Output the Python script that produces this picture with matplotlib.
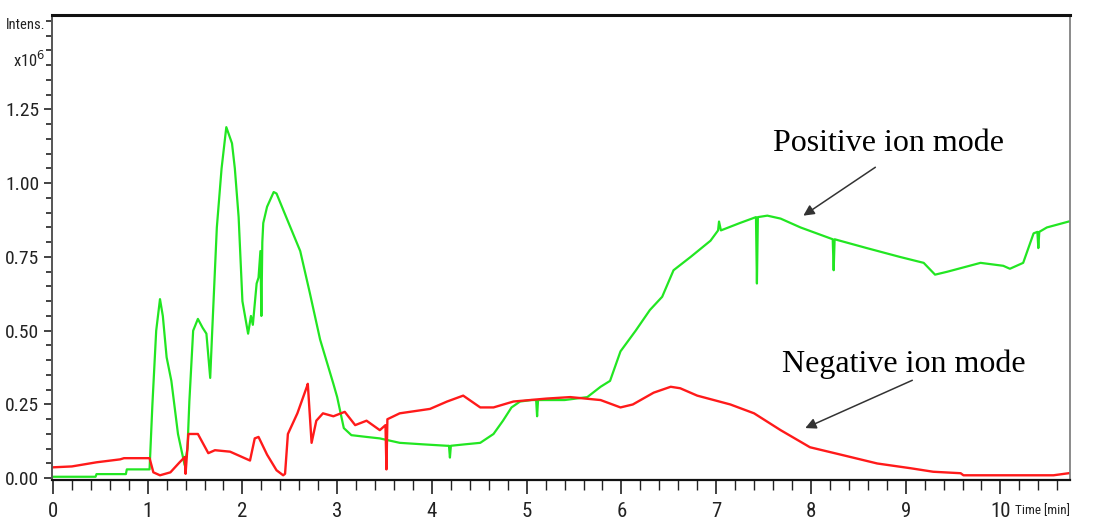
import matplotlib
matplotlib.use("Agg")
import matplotlib.pyplot as plt
from matplotlib import font_manager
from matplotlib.font_manager import FontProperties
from matplotlib.ticker import MultipleLocator, FixedLocator

# Chromatogram traces: retention time (min) and intensity (x10^6)
pos_time = [0.00, 0.45, 0.46, 0.77, 0.78, 1.02, 1.05, 1.09, 1.13, 1.16, 1.20, 1.25, 1.32, 1.39,
            1.42, 1.44, 1.48, 1.53, 1.58, 1.62, 1.66, 1.68, 1.73, 1.78, 1.83, 1.89, 1.92, 1.96,
            2.00, 2.06, 2.09, 2.11, 2.15, 2.17, 2.19, 2.20, 2.21, 2.22, 2.26, 2.33, 2.36, 2.43,
            2.52, 2.61, 2.71, 2.82, 2.96, 3.00, 3.07, 3.15, 3.31, 3.45, 3.66, 3.90, 4.16, 4.18,
            4.19, 4.20, 4.35, 4.51, 4.65, 4.75, 4.84, 4.93, 5.05, 5.10, 5.11, 5.12, 5.21, 5.40,
            5.64, 5.78, 5.88, 5.99, 6.15, 6.30, 6.43, 6.55, 6.73, 6.94, 7.02, 7.03, 7.05, 7.25,
            7.42, 7.43, 7.44, 7.54, 7.68, 7.89, 8.23, 8.24, 8.25, 8.59, 8.94, 9.19, 9.31, 9.44,
            9.79, 10.03, 10.10, 10.24, 10.35, 10.39, 10.40, 10.41, 10.49, 10.72]
pos_int = [0.005, 0.005, 0.014, 0.014, 0.030, 0.030, 0.25, 0.50, 0.607, 0.55, 0.41, 0.33, 0.15, 0.045,
           0.10, 0.26, 0.50, 0.54, 0.51, 0.49, 0.34, 0.49, 0.85, 1.05, 1.19, 1.135, 1.05, 0.885,
           0.60, 0.49, 0.55, 0.52, 0.66, 0.68, 0.77, 0.55, 0.80, 0.865, 0.92, 0.97, 0.965, 0.91,
           0.84, 0.77, 0.63, 0.47, 0.32, 0.275, 0.17, 0.146, 0.14, 0.135, 0.12, 0.115, 0.11, 0.11,
           0.07, 0.11, 0.115, 0.12, 0.15, 0.195, 0.24, 0.26, 0.265, 0.265, 0.21, 0.265, 0.265, 0.265,
           0.275, 0.31, 0.33, 0.43, 0.50, 0.57, 0.615, 0.705, 0.75, 0.805, 0.84, 0.87, 0.84, 0.865,
           0.885, 0.66, 0.885, 0.89, 0.88, 0.85, 0.81, 0.705, 0.81, 0.78, 0.75, 0.73, 0.69, 0.70,
           0.73, 0.72, 0.71, 0.73, 0.83, 0.835, 0.78, 0.835, 0.85, 0.87]

neg_time = [0.00, 0.20, 0.46, 0.71, 0.75, 1.02, 1.06, 1.13, 1.24, 1.34, 1.38, 1.39, 1.40, 1.43,
            1.53, 1.64, 1.71, 1.87, 2.08, 2.13, 2.17, 2.26, 2.36, 2.43, 2.45, 2.48, 2.58, 2.68,
            2.69, 2.73, 2.78, 2.85, 2.96, 3.08, 3.19, 3.31, 3.45, 3.51, 3.52, 3.53, 3.66, 3.98,
            4.16, 4.33, 4.51, 4.65, 4.86, 5.21, 5.46, 5.78, 5.99, 6.12, 6.34, 6.52, 6.62, 6.80,
            7.15, 7.40, 7.68, 7.99, 8.34, 8.70, 9.05, 9.29, 9.58, 9.61, 10.56, 10.72]
neg_int = [0.037, 0.040, 0.054, 0.064, 0.068, 0.068, 0.020, 0.010, 0.020, 0.055, 0.068, 0.072, 0.015, 0.150,
           0.150, 0.085, 0.095, 0.090, 0.060, 0.135, 0.140, 0.080, 0.027, 0.010, 0.015, 0.150, 0.220, 0.310,
           0.320, 0.120, 0.195, 0.220, 0.210, 0.225, 0.180, 0.195, 0.163, 0.180, 0.030, 0.200, 0.220, 0.235,
           0.260, 0.280, 0.240, 0.240, 0.260, 0.270, 0.275, 0.265, 0.240, 0.250, 0.290, 0.310, 0.305, 0.280,
           0.250, 0.220, 0.163, 0.105, 0.078, 0.050, 0.034, 0.022, 0.017, 0.010, 0.010, 0.017]

x_ticks = [0, 1, 2, 3, 4, 5, 6, 7, 8, 9, 10]
x_tick_labels = ["0", "1", "2", "3", "4", "5", "6", "7", "8", "9", "10"]
y_ticks = [0.00, 0.25, 0.50, 0.75, 1.00, 1.25]
y_tick_labels = ["0.00", "0.25", "0.50", "0.75", "1.00", "1.25"]


def condensed_font(size):
    """Pick a narrow sans-serif face if one is installed."""
    entries = font_manager.fontManager.ttflist
    prefs = ["Liberation Sans Narrow", "Arial Narrow", "Roboto Condensed",
             "Open Sans Condensed", "DejaVu Sans Condensed"]
    for name in prefs:
        for f in entries:
            if f.name == name and f.weight in (400, "normal", "regular") and f.style == "normal":
                return FontProperties(fname=f.fname, size=size)
    for f in entries:
        low = f.fname.lower()
        if ("condensed" in low or "narrow" in low) and "bold" not in low and "oblique" not in low \
                and "italic" not in low and "mono" not in low and "serif" not in f.name.lower():
            return FontProperties(fname=f.fname, size=size)
    for f in entries:
        if f.stretch == "condensed" and f.style == "normal":
            return FontProperties(fname=f.fname, size=size)
    return FontProperties(family="Liberation Sans", size=size * 0.8)


tick_font_x = condensed_font(15)
tick_font_y = condensed_font(14)
serif = "Liberation Serif"

fig = plt.figure(figsize=(11.2, 5.25), dpi=100)
ax = fig.add_axes([0.0464, 0.0857, 0.9086, 0.8857])

ax.plot(pos_time, pos_int, color="#22e622", lw=1.6)
ax.plot(neg_time, neg_int, color="#ff1a1a", lw=1.7)

ax.set_xlim(-0.01, 10.73)
ax.set_ylim(-0.006, 1.57)

ax.xaxis.set_major_locator(FixedLocator(x_ticks))
ax.set_xticklabels(x_tick_labels, fontproperties=tick_font_x)
ax.xaxis.set_minor_locator(MultipleLocator(0.2))
ax.yaxis.set_major_locator(FixedLocator(y_ticks))
ax.set_yticklabels(y_tick_labels, fontproperties=tick_font_y)
ax.yaxis.set_minor_locator(MultipleLocator(0.05))

ax.tick_params(axis="x", which="major", length=10, width=1.2, direction="out", pad=6, colors="#222222")
ax.tick_params(axis="x", which="minor", length=7, width=1.0, direction="out", color="#222222")
ax.tick_params(axis="y", which="major", length=6, width=1.2, direction="out", pad=3, colors="#222222")
ax.tick_params(axis="y", which="minor", length=4, width=1.2, direction="out", color="#222222")

ax.spines["top"].set_linewidth(2.2)
ax.spines["top"].set_color("#111111")
ax.spines["bottom"].set_linewidth(1.6)
ax.spines["bottom"].set_color("#111111")
ax.spines["left"].set_linewidth(1.4)
ax.spines["left"].set_color("#555555")
ax.spines["right"].set_linewidth(1.2)
ax.spines["right"].set_color("#777777")

# Axis captions in instrument-software style
fig.text(0.0405, 0.952, "Intens.", fontproperties=condensed_font(10.5), ha="right", va="center",
         color="#222222")
fig.text(0.0405, 0.886, r"x10$^{6}$", fontproperties=condensed_font(12), ha="right", va="center",
         color="#222222")
fig.text(0.906, 0.027, "Time [min]", fontproperties=condensed_font(9.5), ha="left", va="center",
         color="#222222")

# Trace annotations
arrow = dict(arrowstyle="-|>", color="#333333", lw=1.1, mutation_scale=16, shrinkA=0, shrinkB=0)
ax.text(8.82, 1.136, "Positive ion mode", fontfamily=serif, fontsize=23, ha="center", va="center")
ax.annotate("", xy=(7.92, 0.89), xytext=(8.68, 1.054), arrowprops=arrow)
ax.text(8.98, 0.385, "Negative ion mode", fontfamily=serif, fontsize=23, ha="center", va="center")
ax.annotate("", xy=(7.94, 0.17), xytext=(9.07, 0.332), arrowprops=arrow)

fig.savefig("out.png", dpi=100)
